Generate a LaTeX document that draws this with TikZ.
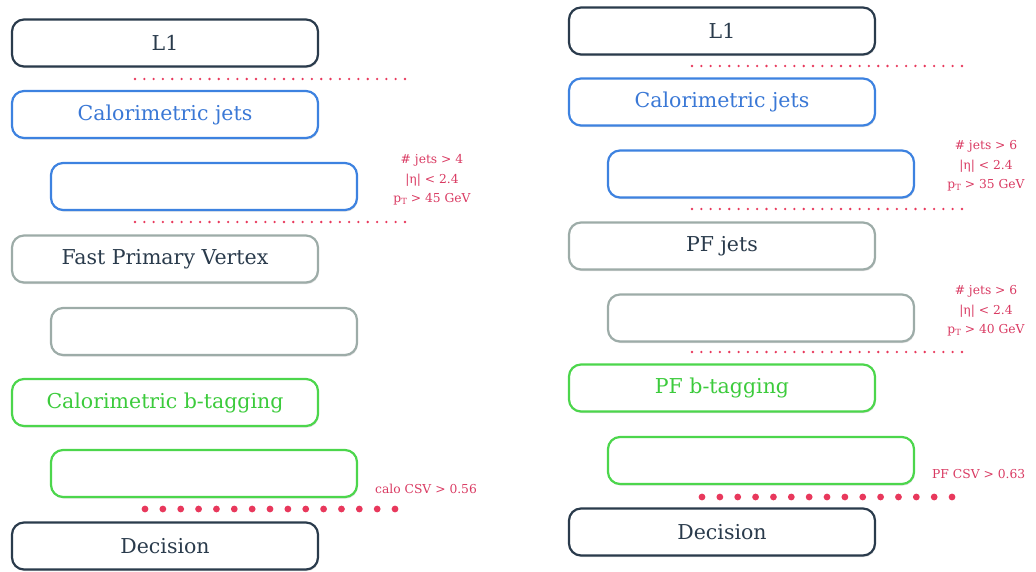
\documentclass[tikz,border=0pt]{standalone}
\usepackage{fontspec}
\setmainfont{DejaVu Serif}
\usetikzlibrary{shadows}
\definecolor{navy}{HTML}{2A3B4C}
\definecolor{bblue}{HTML}{3D82E0}
\definecolor{tblue}{HTML}{3A78D6}
\definecolor{ggray}{HTML}{9DACA8}
\definecolor{ggreen}{HTML}{4CD64C}
\definecolor{tgreen}{HTML}{3CCB3C}
\definecolor{dotred}{HTML}{E8385C}
\definecolor{tred}{HTML}{D93A62}
\newcommand{\pT}{p\raisebox{-0.25ex}{\fontsize{8.5}{9}\selectfont T}}
\begin{document}
\begin{tikzpicture}[x=1pt,y=-1pt,
  box/.style={draw, rounded corners=12pt, line width=2.2pt, minimum width=306pt,
    minimum height=47pt, inner sep=0pt, fill=white, font=\fontsize{20.5}{24}\selectfont,
    drop shadow={shadow xshift=0.8pt, shadow yshift=-1.6pt, opacity=0.25}},
  navybox/.style={box, draw=navy, text=navy},
  bluebox/.style={box, draw=bblue, text=tblue},
  graybox/.style={box, draw=ggray, text=navy},
  greenbox/.style={box, draw=ggreen, text=tgreen},
  cut/.style={text=tred, align=center, font=\fontsize{12.3}{19.5}\selectfont, inner sep=0pt},
]
\useasboundingbox (0,0) rectangle (1036,572);
% left column
\node[navybox]  (lL1)   at (165,43)    {L1};
\node[bluebox]  (lcal)  at (165,114.5) {Calorimetric jets};
\node[bluebox]  (lcalc) at (204,186.5) {};
\node[graybox]  (lfpv)  at (165,259)   {Fast Primary Vertex};
\node[graybox]  (lfpvc) at (204,331.5) {};
\node[greenbox] (lbt)   at (165,402.5) {Calorimetric b-tagging};
\node[greenbox] (lbtc)  at (204,473.5) {};
\node[navybox]  (ldec)  at (165,546)   {Decision};
\node[cut] (lcut1) at (432,180) {\# jets > 4\\ |η| < 2.4\\ \pT{} > 45 GeV};
\node[cut, anchor=west] (lcut2) at (375,489) {calo CSV > 0.56};
% right column
\node[navybox]  (rL1)   at (722,31)    {L1};
\node[bluebox]  (rcal)  at (722,102)   {Calorimetric jets};
\node[bluebox]  (rcalc) at (761,174)   {};
\node[graybox]  (rpf)   at (722,246)   {PF jets};
\node[graybox]  (rpfc)  at (761,318)   {};
\node[greenbox] (rbt)   at (722,388)   {PF b-tagging};
\node[greenbox] (rbtc)  at (761,460.5) {};
\node[navybox]  (rdec)  at (722,532)   {Decision};
\node[cut] (rcut1) at (986,166) {\# jets > 6\\ |η| < 2.4\\ \pT{} > 35 GeV};
\node[cut] (rcut2) at (986,311) {\# jets > 6\\ |η| < 2.4\\ \pT{} > 40 GeV};
\node[cut, anchor=west] (rcut3) at (932,474) {PF CSV > 0.63};
% dotted separators
\foreach \y in {79,222} {
  \foreach \i in {0,...,29} \fill[dotred] (135+\i*9.31,\y) circle (1.3pt);
}
\foreach \y in {66,209,352} {
  \foreach \i in {0,...,29} \fill[dotred] (692+\i*9.31,\y) circle (1.3pt);
}
\foreach \i in {0,...,14} \fill[dotred] (145+\i*17.86,509) circle (3.4pt);
\foreach \i in {0,...,14} \fill[dotred] (702+\i*17.86,497) circle (3.4pt);
\end{tikzpicture}
\end{document}
